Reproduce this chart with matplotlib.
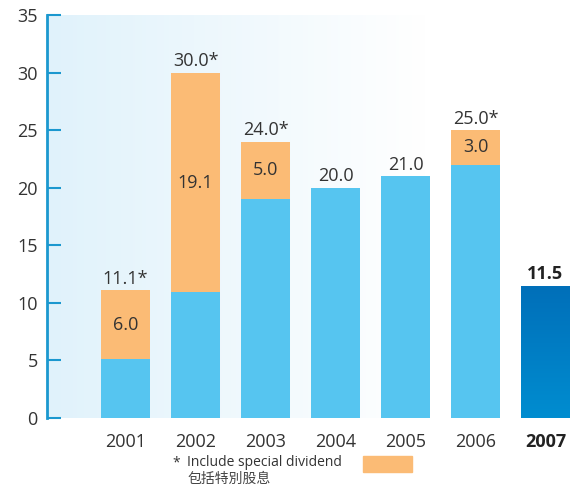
import numpy as np
import matplotlib.pyplot as plt
from matplotlib.colors import LinearSegmentedColormap

plt.rcParams['font.family'] = ['Open Sans', 'Noto Sans CJK TC', 'DejaVu Sans']

years = ["2001", "2002", "2003", "2004", "2005", "2006", "2007"]
regular = [5.1, 10.9, 19.0, 20.0, 21.0, 22.0, 11.5]
special = [6.0, 19.1, 5.0, 0.0, 0.0, 3.0, 0.0]
totals = [11.1, 30.0, 24.0, 20.0, 21.0, 25.0, 11.5]
y_ticks = [0, 5, 10, 15, 20, 25, 30, 35]

LIGHT_BLUE = "#56c5f0"
ORANGE = "#fbbb75"
AXIS_BLUE = "#1b98cf"
TEXT = "#333333"

W, H = 573, 487
fig = plt.figure(figsize=(W / 100, H / 100), dpi=100)
ax = fig.add_axes([47 / W, (H - 418) / H, (W - 47) / W, (418 - 15) / H])

x = np.arange(len(years))
ax.set_xlim(-(125.5 - 47) / 70, (W - 125.5) / 70)
ax.set_ylim(0, 35)

# background gradient: light blue on the left fading to white
xl = ax.get_xlim()
frac = np.clip(np.linspace(0, 1, 300) * (W - 47) / (425 - 47), 0, 1)
grad = LinearSegmentedColormap.from_list("bg", ["#e0f2fb", "#ffffff"])
ax.imshow(frac[np.newaxis, :], cmap=grad, vmin=0, vmax=1, aspect="auto",
          extent=(xl[0], xl[1], 0, 35), zorder=0)

bw = 0.7
ax.bar(x[:-1], regular[:-1], width=bw, color=LIGHT_BLUE, zorder=2)
ax.bar(x[:-1], special[:-1], bottom=regular[:-1], width=bw, color=ORANGE, zorder=2)

# 2007 bar with vertical gradient
last = ax.bar(x[-1], regular[-1], width=bw, color="none", zorder=2)[0]
dark = LinearSegmentedColormap.from_list("dk", ["#008dd0", "#006fb9"])
img = ax.imshow(np.linspace(0, 1, 100)[:, np.newaxis], cmap=dark, origin="lower",
                aspect="auto", extent=(x[-1] - bw / 2, x[-1] + bw / 2, 0, regular[-1]),
                zorder=2)
img.set_clip_path(last)
ax.set_xlim(xl)
ax.set_ylim(0, 35)

for i in range(len(years)):
    if special[i] > 0:
        ax.text(x[i], regular[i] + special[i] / 2, f"{special[i]:.1f}", ha="center",
                va="center", fontsize=13, color=TEXT, zorder=3)
        label = f"{totals[i]:.1f}*"
    else:
        label = f"{totals[i]:.1f}"
    bold = i == len(years) - 1
    ax.text(x[i], totals[i] + 0.55, label,
            ha="center", va="baseline", fontsize=13, color="#222222" if bold else TEXT,
            fontweight="bold" if bold else "normal", zorder=3)

for s in ["top", "right", "bottom"]:
    ax.spines[s].set_visible(False)
ax.spines["left"].set_color(AXIS_BLUE)
ax.spines["left"].set_linewidth(2)

ax.set_yticks(y_ticks)
ax.tick_params(axis="y", direction="in", length=10, width=1.5, color=AXIS_BLUE,
               labelsize=13, labelcolor=TEXT, pad=-2)
for lbl in ax.get_yticklabels():
    lbl.set_x(-12 / (W - 47))

ax.set_xticks(x)
ax.set_xticklabels(years)
ax.tick_params(axis="x", length=0, labelsize=13, labelcolor=TEXT, pad=11)
ax.get_xticklabels()[-1].set_fontweight("bold")
ax.get_xticklabels()[-1].set_color("#222222")

# footnote legend
fig.text(172 / W, 1 - 463 / H, "*", fontsize=10, color=TEXT, va="center")
fig.text(187 / W, 1 - 463 / H, "Include special dividend", fontsize=10, color=TEXT,
         va="center")
fig.text(187 / W, 1 - 479 / H, "包括特別股息", fontsize=10, color="#444444", va="center")
fig.patches.append(plt.Rectangle((363 / W, 1 - 472 / H), 49 / W, 16 / H,
                                 transform=fig.transFigure, color=ORANGE))

fig.savefig("out.png", dpi=100)
